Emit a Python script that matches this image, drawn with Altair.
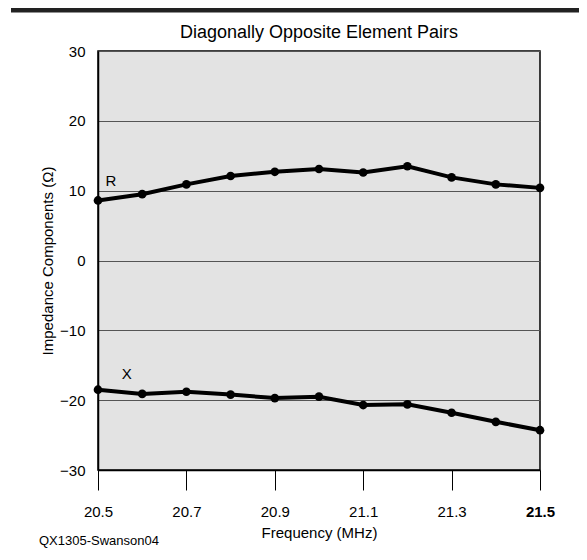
import altair as alt
import pandas as pd

freq = [20.5, 20.6, 20.7, 20.8, 20.9, 21.0, 21.1, 21.2, 21.3, 21.4, 21.5]
r_vals = [8.6, 9.5, 10.9, 12.1, 12.7, 13.1, 12.6, 13.5, 11.9, 10.9, 10.4]
x_vals = [-18.5, -19.1, -18.8, -19.2, -19.7, -19.5, -20.7, -20.6, -21.8, -23.1, -24.3]
x_ticks = [20.5, 20.7, 20.9, 21.1, 21.3, 21.5]
y_ticks = [-30, -20, -10, 0, 10, 20, 30]
series_labels = ["R", "X"]
label_freq = [20.529, 20.565]
label_val = [11.4, -16.2]
title_text = "Diagonally Opposite Element Pairs"
credit_text = "QX1305-Swanson04"

FONT = "Liberation Sans"

rows = []
for f, v in zip(freq, r_vals):
    rows.append({"freq": f, "val": v, "series": "R"})
for f, v in zip(freq, x_vals):
    rows.append({"freq": f, "val": v, "series": "X"})
df = pd.DataFrame(rows)
lab = pd.DataFrame({"freq": label_freq, "val": label_val, "text": series_labels})

xscale = alt.Scale(domain=[20.5, 21.5], nice=False, zero=False)
yscale = alt.Scale(domain=[-30, 30], nice=False, zero=False)

xaxis = alt.Axis(values=x_ticks, format=".1f", tickSize=20, tickColor="black", tickWidth=1,
                 domainColor="black", domainWidth=1.5, grid=False, labelFontSize=15,
                 labelPadding=14, labelColor="black", labelFlush=False,
                 labelFontWeight={"condition": {"test": "datum.value > 21.45", "value": "bold"}, "value": "normal"},
                 title="Frequency (MHz)", titleFontSize=15, titleFontWeight="normal",
                 titleColor="black", titlePadding=6)
yaxis = alt.Axis(values=y_ticks, format="d", tickSize=0, domainColor="black", domainWidth=1.5,
                 grid=True, gridColor="#555555", gridWidth=1, labelFontSize=15, labelPadding=13,
                 labelColor="black", labelFlush=False,
                 title="Impedance Components (Ω)", titleFontSize=15, titleFontWeight="normal",
                 titleColor="black", titlePadding=4)

base = alt.Chart(df)
lines = base.mark_line(color="black", strokeWidth=4).encode(
    x=alt.X("freq:Q", scale=xscale, axis=xaxis),
    y=alt.Y("val:Q", scale=yscale, axis=yaxis),
    detail="series:N",
)
points = base.mark_circle(color="black", size=75, opacity=1).encode(
    x=alt.X("freq:Q", scale=xscale),
    y=alt.Y("val:Q", scale=yscale),
)
labels = alt.Chart(lab).mark_text(font=FONT, fontSize=15, color="black", align="center",
                                  baseline="middle").encode(
    x=alt.X("freq:Q", scale=xscale),
    y=alt.Y("val:Q", scale=yscale),
    text="text:N",
)
misc = pd.DataFrame({"t": [title_text]})
topbar = alt.Chart(misc).mark_rule(color="#222222", strokeWidth=5).encode(
    x=alt.value(-87), x2=alt.value(481), y=alt.value(-41)
)
title = alt.Chart(misc).mark_text(font=FONT, fontSize=18, color="black", align="center",
                                  baseline="alphabetic").encode(
    x=alt.value(221), y=alt.value(-13.5), text="t:N"
)
credit = alt.Chart(pd.DataFrame({"t": [credit_text]})).mark_text(
    font=FONT, fontSize=13, color="black", align="left", baseline="middle"
).encode(x=alt.value(-59), y=alt.value(490), text="t:N")

chart = alt.layer(lines, points, labels, topbar, title, credit).properties(
    width=442, height=419,
    autosize=alt.AutoSizeParams(type="none"),
    padding={"left": 90, "top": 43, "right": 39, "bottom": 82},
).configure(
    font=FONT, background="white"
).configure_view(fill="#e3e3e3", stroke="black", strokeWidth=1.5)

chart.save("out.html", embed_options={"renderer": "svg", "actions": False})
